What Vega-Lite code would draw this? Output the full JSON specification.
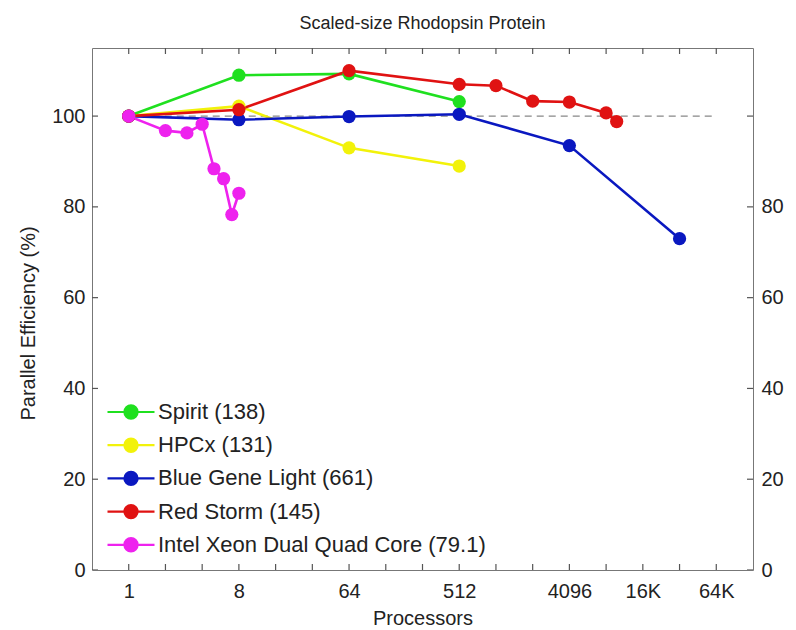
{
  "$schema": "https://vega.github.io/schema/vega-lite/v6.json",
  "width": 661,
  "height": 522,
  "autosize": {"type": "none"},
  "padding": {"left": 92, "top": 48, "right": 43, "bottom": 60},
  "background": "white",
  "title": {"text": "Scaled-size Rhodopsin Protein", "fontSize": 18, "font": "Liberation Sans", "fontWeight": "normal", "color": "#222", "offset": 15, "anchor": "middle"},
  "config": {
    "view": {"stroke": "#777", "strokeWidth": 1},
    "font": "Liberation Sans",
    "axis": {"domain": false, "grid": false, "ticks": false, "labelFont": "Liberation Sans", "labelFontSize": 20, "labelColor": "#222", "titleFont": "Liberation Sans", "titleFontSize": 20, "titleFontWeight": "normal", "titleColor": "#222", "labelOverlap": false, "labelFlush": false, "labelBound": false},
    "legend": {"orient": "none", "legendX": 14, "legendY": 352, "title": null, "padding": 0,
            "symbolType": "M-1,0L1,0M-0.28,0A0.28,0.28,0,1,0,0.28,0A0.28,0.28,0,1,0,-0.28,0Z",
            "symbolSize": 2209, "clipHeight": 24, "rowPadding": 9.2, "labelOffset": 2,
            "labelFontSize": 22, "labelFont": "Liberation Sans", "labelColor": "#222", "symbolStrokeWidth": 2.2, "symbolOpacity": 1, "labelLimit": 500}
  },
  "datasets": {
    "ref": [{"p": 1, "v": 100}, {"p": 65536, "v": 100}],
    "xt": [{"p": 1}, {"p": 2}, {"p": 4}, {"p": 8}, {"p": 16}, {"p": 32}, {"p": 64}, {"p": 128}, {"p": 256}, {"p": 512}, {"p": 1024}, {"p": 2048}, {"p": 4096}, {"p": 8192}, {"p": 16384}, {"p": 32768}, {"p": 65536}],
    "yt": [{"v": 0}, {"v": 20}, {"v": 40}, {"v": 60}, {"v": 80}, {"v": 100}],
    "eff": [
      {"series": "Spirit (138)", "p": 1, "v": 100},
      {"series": "Spirit (138)", "p": 8, "v": 109},
      {"series": "Spirit (138)", "p": 64, "v": 109.3},
      {"series": "Spirit (138)", "p": 512, "v": 103.2},
      {"series": "HPCx (131)", "p": 1, "v": 100},
      {"series": "HPCx (131)", "p": 8, "v": 102.2},
      {"series": "HPCx (131)", "p": 64, "v": 93},
      {"series": "HPCx (131)", "p": 512, "v": 89},
      {"series": "Blue Gene Light (661)", "p": 1, "v": 100},
      {"series": "Blue Gene Light (661)", "p": 8, "v": 99.2},
      {"series": "Blue Gene Light (661)", "p": 64, "v": 99.9},
      {"series": "Blue Gene Light (661)", "p": 512, "v": 100.4},
      {"series": "Blue Gene Light (661)", "p": 4096, "v": 93.5},
      {"series": "Blue Gene Light (661)", "p": 32768, "v": 73},
      {"series": "Red Storm (145)", "p": 1, "v": 100},
      {"series": "Red Storm (145)", "p": 8, "v": 101.4},
      {"series": "Red Storm (145)", "p": 64, "v": 110},
      {"series": "Red Storm (145)", "p": 512, "v": 107},
      {"series": "Red Storm (145)", "p": 1024, "v": 106.7},
      {"series": "Red Storm (145)", "p": 2048, "v": 103.3},
      {"series": "Red Storm (145)", "p": 4096, "v": 103.1},
      {"series": "Red Storm (145)", "p": 8192, "v": 100.7},
      {"series": "Red Storm (145)", "p": 10000, "v": 98.8},
      {"series": "Intel Xeon Dual Quad Core (79.1)", "p": 1, "v": 100},
      {"series": "Intel Xeon Dual Quad Core (79.1)", "p": 2, "v": 96.8},
      {"series": "Intel Xeon Dual Quad Core (79.1)", "p": 3, "v": 96.3},
      {"series": "Intel Xeon Dual Quad Core (79.1)", "p": 4, "v": 98.2},
      {"series": "Intel Xeon Dual Quad Core (79.1)", "p": 5, "v": 88.4},
      {"series": "Intel Xeon Dual Quad Core (79.1)", "p": 6, "v": 86.2},
      {"series": "Intel Xeon Dual Quad Core (79.1)", "p": 7, "v": 78.3},
      {"series": "Intel Xeon Dual Quad Core (79.1)", "p": 8, "v": 83}
    ]
  },
  "layer": [
    {
      "data": {"name": "ref"},
      "mark": {"type": "line", "color": "#888", "strokeWidth": 1.2, "strokeDash": [7, 5]},
      "encoding": {
        "x": {"field": "p", "type": "quantitative", "scale": {"type": "log", "base": 2, "domain": [0.5, 131072], "nice": false},
          "axis": {"orient": "bottom", "title": "Processors", "titlePadding": 7, "labelPadding": 11,
            "values": [1, 2, 4, 8, 16, 32, 64, 128, 256, 512, 1024, 2048, 4096, 8192, 16384, 32768, 65536],
            "labelExpr": "datum.value == 16384 ? '16K' : datum.value == 65536 ? '64K' : (datum.value == 1 || datum.value == 8 || datum.value == 64 || datum.value == 512 || datum.value == 4096) ? format(datum.value, 'd') : ''"}},
        "y": {"field": "v", "type": "quantitative", "scale": {"domain": [0, 115], "nice": false, "zero": false},
          "axis": {"orient": "left", "title": "Parallel Efficiency (%)", "titlePadding": 13, "titleY": 275, "labelPadding": 7, "values": [0, 20, 40, 60, 80, 100]}}
      }
    },
    {
      "data": {"name": "xt"},
      "mark": {"type": "tick", "orient": "vertical", "size": 12, "thickness": 1.2, "color": "#555", "opacity": 1, "clip": true},
      "encoding": {
        "x": {"field": "p", "type": "quantitative", "axis": null},
        "y": {"datum": 0, "type": "quantitative", "axis": null}
      }
    },
    {
      "data": {"name": "xt"},
      "mark": {"type": "tick", "orient": "vertical", "size": 12, "thickness": 1.2, "color": "#555", "opacity": 1, "clip": true},
      "encoding": {
        "x": {"field": "p", "type": "quantitative", "axis": null},
        "y": {"datum": 115, "type": "quantitative", "axis": null}
      }
    },
    {
      "data": {"name": "yt"},
      "mark": {"type": "tick", "orient": "horizontal", "size": 12, "thickness": 1.2, "color": "#555", "opacity": 1, "clip": true},
      "encoding": {
        "x": {"datum": 0.5, "type": "quantitative", "axis": null},
        "y": {"field": "v", "type": "quantitative", "axis": null}
      }
    },
    {
      "data": {"name": "yt"},
      "mark": {"type": "tick", "orient": "horizontal", "size": 12, "thickness": 1.2, "color": "#555", "opacity": 1, "clip": true},
      "encoding": {
        "x": {"datum": 131072, "type": "quantitative", "axis": null},
        "y": {"field": "v", "type": "quantitative", "axis": null}
      }
    },
    {
      "data": {"name": "eff"},
      "mark": {"type": "line", "strokeWidth": 2.6},
      "encoding": {
        "x": {"field": "p", "type": "quantitative", "axis": {"orient": "top", "title": null, "labels": false,
            "values": [1, 2, 4, 8, 16, 32, 64, 128, 256, 512, 1024, 2048, 4096, 8192, 16384, 32768, 65536]}},
        "y": {"field": "v", "type": "quantitative", "axis": {"orient": "right", "title": null, "labelPadding": 8, "values": [0, 20, 40, 60, 80, 100], "labelExpr": "datum.value == 100 ? '' : datum.label"}},
        "color": {"field": "series", "type": "nominal",
          "scale": {"domain": ["Spirit (138)", "HPCx (131)", "Blue Gene Light (661)", "Red Storm (145)", "Intel Xeon Dual Quad Core (79.1)"],
                    "range": ["#1fe01f", "#f2f20a", "#0a18c0", "#e01212", "#ee22ee"]}}
      }
    },
    {
      "data": {"name": "eff"},
      "mark": {"type": "circle", "size": 175, "opacity": 1},
      "encoding": {
        "x": {"field": "p", "type": "quantitative", "axis": null},
        "y": {"field": "v", "type": "quantitative", "axis": null},
        "color": {"field": "series", "type": "nominal",
          "legend": {"encode": {"symbols": {"update": {"stroke": {"scale": "color", "field": "value"}, "fill": {"scale": "color", "field": "value"}, "strokeWidth": {"value": 2.2}}}}}}
      }
    }
  ],
  "resolve": {"axis": {"x": "independent", "y": "independent"}}
}
